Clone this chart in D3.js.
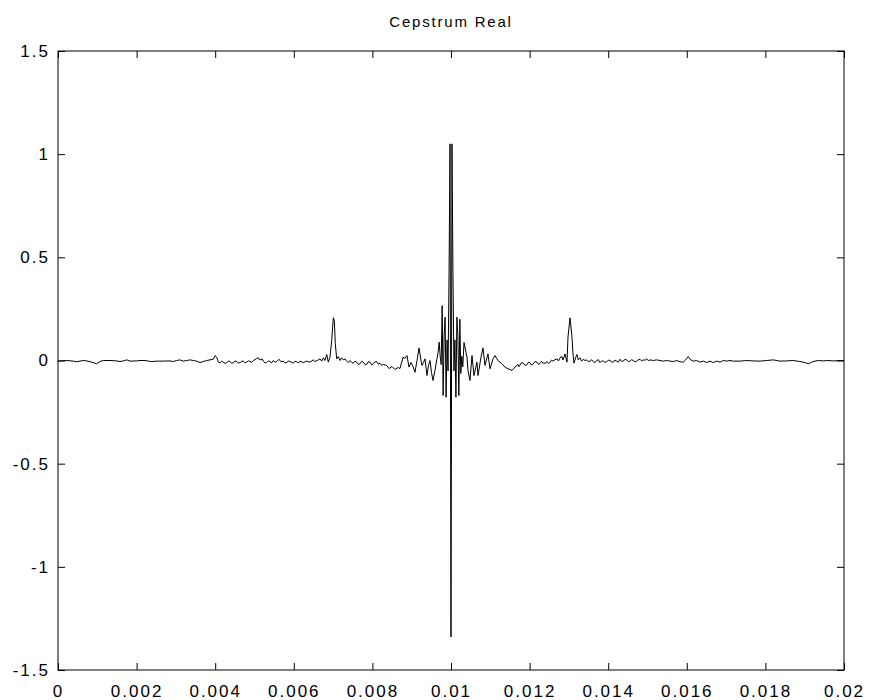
<!DOCTYPE html>
<html>
<head>
<meta charset="utf-8">
<script src="https://cdn.jsdelivr.net/npm/d3@7"></script>
<style>
  html, body { margin: 0; padding: 0; background: #fff; }
  svg { display: block; }
  text { font-family: "Liberation Sans", Arial, Helvetica, sans-serif; fill: #000; }
</style>
</head>
<body>
<svg id="chart" width="869" height="700"></svg>
<script>
// Real cepstrum of the signal: [quefrency (s), amplitude]
const chartTitle = "Cepstrum Real";

const xTicks = [0, 0.002, 0.004, 0.006, 0.008, 0.01, 0.012, 0.014, 0.016, 0.018, 0.02];
const xTickLabels = ["0", "0.002", "0.004", "0.006", "0.008", "0.01", "0.012", "0.014", "0.016", "0.018", "0.02"];
const yTicks = [-1.5, -1, -0.5, 0, 0.5, 1, 1.5];
const yTickLabels = ["-1.5", "-1", "-0.5", "0", "0.5", "1", "1.5"];

// low quefrency side
const cepstrumLeft = [
  [0, -0.003], [0.000221, 0], [0.000389, -0.003], [0.000476, -0.006], [0.000560, -0.003],
  [0.000644, 0], [0.000730, -0.002], [0.000858, -0.008], [0.000985, -0.016], [0.001069, -0.005],
  [0.001153, 0], [0.001323, 0], [0.001494, -0.002], [0.001578, -0.005], [0.001662, -0.002],
  [0.001748, 0.003], [0.001832, -0.003], [0.002003, -0.002], [0.002086, 0], [0.002214, 0],
  [0.002298, -0.003], [0.002384, -0.005], [0.002511, -0.003], [0.002679, -0.003], [0.002850, -0.002],
  [0.002934, -0.005], [0.003020, 0], [0.003104, 0.003], [0.003188, -0.003], [0.003275, 0],
  [0.003359, 0.003], [0.003443, 0], [0.003529, -0.003], [0.003613, -0.010], [0.003697, -0.005],
  [0.003784, 0], [0.003868, 0.003], [0.003952, 0.006], [0.003995, 0.024], [0.004038, 0.016],
  [0.004079, -0.008], [0.004122, -0.011], [0.004164, -0.004], [0.004206, -0.008], [0.004250, -0.014],
  [0.004293, -0.010], [0.004335, -0.003], [0.004377, -0.006], [0.004419, -0.013], [0.004461, -0.011],
  [0.004504, -0.002], [0.004547, -0.005], [0.004589, -0.012], [0.004631, -0.010], [0.004673, -0.004],
  [0.004715, -0.003], [0.004758, -0.011], [0.004801, -0.008], [0.004843, -0.002], [0.004885, -0.005],
  [0.004927, -0.009], [0.004969, 0], [0.005012, 0.004], [0.005056, 0.010], [0.005097, 0.013],
  [0.005140, 0.002], [0.005191, 0.008], [0.005224, -0.003], [0.005267, -0.012], [0.005310, -0.010],
  [0.005352, -0.002], [0.005394, -0.005], [0.005436, -0.011], [0.005478, 0], [0.005521, -0.008],
  [0.005565, -0.005], [0.005623, 0.006], [0.005674, -0.006], [0.005733, -0.003], [0.005776, -0.012],
  [0.005819, -0.011], [0.005861, -0.002], [0.005903, -0.005], [0.005945, -0.008], [0.005987, -0.013],
  [0.006031, -0.003], [0.006074, -0.006], [0.006116, -0.012], [0.006158, -0.003],
  [0.006242, -0.010], [0.006328, -0.003], [0.006412, -0.008], [0.006496, 0.003], [0.006539, -0.005],
  [0.006623, 0.003], [0.006667, 0.008], [0.006710, -0.003], [0.006751, 0.013], [0.006794, 0],
  [0.006837, 0.029], [0.006878, -0.008], [0.006921, 0.016], [0.006964, 0.097], [0.007005, 0.207],
  [0.007031, 0.194], [0.007056, 0.081], [0.007092, 0.008], [0.007132, 0.019], [0.007175, 0],
  [0.007219, 0.013], [0.007260, 0.003], [0.007303, 0.008], [0.007346, -0.003], [0.007388, -0.010],
  [0.007430, 0], [0.007472, -0.009], [0.007514, -0.013], [0.007557, -0.003], [0.007600, -0.008],
  [0.007642, -0.019], [0.007684, -0.016], [0.007726, -0.004], [0.007768, -0.008], [0.007811, -0.020],
  [0.007855, -0.019], [0.007897, -0.006], [0.007939, -0.008], [0.007981, -0.021], [0.008023, -0.016],
  [0.008066, -0.007], [0.008109, -0.005], [0.008151, -0.018], [0.008193, -0.013], [0.008235, -0.024],
  [0.008277, -0.019], [0.008364, -0.024], [0.008422, -0.039], [0.008499, -0.029], [0.008575, -0.044],
  [0.008651, -0.034], [0.008702, -0.039], [0.008779, 0.016], [0.008829, 0.010], [0.008880, 0.024],
  [0.008931, -0.032], [0.008982, -0.010], [0.009033, -0.029], [0.009084, -0.057], [0.009135, 0],
  [0.009186, 0.061], [0.009237, 0], [0.009262, -0.024], [0.009300, -0.010], [0.009338, 0.008],
  [0.009389, -0.073], [0.009427, -0.024], [0.009466, 0], [0.009504, -0.058], [0.009542, -0.097],
  [0.009593, -0.048], [0.009644, 0.010], [0.009672, 0.040]
];

// main lobe around 0.01 s
const cepstrumCentre = [
  [0.009700, 0.089], [0.009725, 0.020], [0.009750, -0.020], [0.009775, 0.266], [0.009800, -0.170],
  [0.009825, 0.120], [0.009850, 0.210], [0.009875, -0.178], [0.009900, 0.100], [0.009925, -0.050],
  [0.009950, 0.420], [0.009975, 1.050], [0.010000, -1.340], [0.010025, 1.050], [0.010050, 0.420],
  [0.010075, -0.050], [0.010100, 0.100], [0.010125, -0.178], [0.010150, 0.210], [0.010175, 0.120],
  [0.010200, -0.170], [0.010225, 0.200], [0.010250, -0.063], [0.010275, 0.020], [0.010300, -0.030]
];

// high quefrency side
const cepstrumRight = [
  [0.010331, 0.087], [0.010407, 0.016], [0.010432, -0.048], [0.010483, -0.097], [0.010534, 0.024],
  [0.010585, -0.073], [0.010661, -0.008], [0.010687, -0.073], [0.010763, 0.016], [0.010814, 0.061],
  [0.010865, -0.024], [0.010941, 0.032], [0.010992, -0.040], [0.011069, 0.008], [0.011119, 0.024],
  [0.011196, 0], [0.011298, -0.016], [0.011374, -0.032], [0.011450, -0.040], [0.011552, -0.048],
  [0.011628, -0.032], [0.011705, -0.019], [0.011730, -0.030], [0.011756, -0.022], [0.011794, -0.010],
  [0.011832, -0.012], [0.011883, -0.024], [0.011934, -0.020], [0.011972, -0.008], [0.012010, -0.010],
  [0.012048, -0.022], [0.012086, -0.018], [0.012137, -0.005], [0.012188, -0.008], [0.012226, -0.019],
  [0.012264, -0.015], [0.012303, -0.004], [0.012341, -0.012], [0.012392, -0.014], [0.012443, -0.006],
  [0.012481, -0.013], [0.012519, -0.010], [0.012557, 0.002], [0.012595, -0.003], [0.012646, 0.004],
  [0.012697, 0.008], [0.012735, -0.002], [0.012773, 0.013], [0.012824, 0.019], [0.012850, 0.003],
  [0.012901, 0.032], [0.012952, -0.008], [0.012977, 0.113], [0.013028, 0.207], [0.013079, 0.113],
  [0.013104, 0.032], [0.013130, -0.013], [0.013181, 0.019], [0.013206, 0.029], [0.013239, 0.003],
  [0.013282, 0.013], [0.013326, -0.003], [0.013366, 0.006], [0.013410, 0], [0.013453, 0.003],
  [0.013495, -0.006], [0.013537, -0.003], [0.013579, 0.004], [0.013621, -0.006], [0.013664, -0.010],
  [0.013707, 0], [0.013749, 0.004], [0.013791, -0.010], [0.013833, -0.002], [0.013875, -0.003],
  [0.013918, -0.009], [0.013962, -0.006], [0.014004, 0.002], [0.014046, 0], [0.014088, -0.007],
  [0.014130, -0.008], [0.014173, 0.002], [0.014216, -0.003], [0.014258, -0.008], [0.014300, 0.006],
  [0.014342, -0.004], [0.014384, -0.003], [0.014427, 0.006], [0.014471, 0.003], [0.014513, -0.006],
  [0.014555, -0.003], [0.014597, 0.004], [0.014639, 0], [0.014682, -0.006], [0.014725, -0.003],
  [0.014767, 0.004], [0.014809, 0.006], [0.014851, -0.002], [0.014893, 0.003], [0.014936, 0.001],
  [0.014980, 0.008], [0.015021, -0.001], [0.015063, 0.003], [0.015147, 0], [0.015234, 0.003],
  [0.015318, 0], [0.015402, -0.003], [0.015488, 0], [0.015572, -0.003], [0.015656, -0.005],
  [0.015743, 0], [0.015827, -0.006], [0.015911, -0.008], [0.015954, 0], [0.016038, 0.019],
  [0.016099, 0.003], [0.016165, -0.003], [0.016252, 0], [0.016336, -0.008], [0.016420, -0.003],
  [0.016506, -0.010], [0.016590, -0.003], [0.016674, -0.010], [0.016761, -0.003], [0.016845, -0.008],
  [0.016929, 0], [0.017015, -0.003], [0.017099, 0], [0.017183, -0.003], [0.017353, -0.003],
  [0.017524, 0], [0.017692, -0.002], [0.017862, -0.003], [0.018033, 0], [0.018201, 0.003],
  [0.018371, -0.003], [0.018542, -0.002], [0.018710, 0], [0.018880, -0.005], [0.019007, -0.010],
  [0.019091, -0.016], [0.019178, -0.008], [0.019262, -0.003], [0.019346, 0], [0.019473, -0.002],
  [0.019559, 0], [0.019728, -0.002], [0.019898, 0], [0.020000, 0]
];

const svg = d3.select("#chart");
const margin = { left: 58, right: 25, top: 51, bottom: 30 };
const W = 869, H = 700;
const x0 = margin.left, x1 = W - margin.right;
const y0 = H - margin.bottom, y1 = margin.top;

const x = d3.scaleLinear().domain([0, 0.02]).range([x0, x1]);
const y = d3.scaleLinear().domain([-1.5, 1.5]).range([y0, y1]);

const fontSize = 17;
const tickLen = 7;

// Box around the plot area
svg.append("rect")
  .attr("x", x0).attr("y", y1)
  .attr("width", x1 - x0).attr("height", y0 - y1)
  .attr("fill", "none").attr("stroke", "#000").attr("stroke-width", 1);

// Cepstrum trace
const pts = cepstrumLeft.concat(cepstrumCentre, cepstrumRight);
svg.append("path")
  .datum(pts)
  .attr("fill", "none")
  .attr("stroke", "#000")
  .attr("stroke-width", 1)
  .attr("stroke-linejoin", "miter")
  .attr("d", d3.line().x(d => x(d[0])).y(d => y(d[1])));

function styleAxis(g) {
  g.select(".domain").remove();
  g.selectAll(".tick line").attr("stroke", "#000").attr("stroke-width", 1);
  g.selectAll(".tick text")
    .attr("font-size", fontSize)
    .attr("letter-spacing", "2px")
    .attr("fill", "#000");
}

// Bottom axis with labels, ticks pointing inward
svg.append("g")
  .attr("transform", `translate(0,${y0})`)
  .call(d3.axisBottom(x).tickValues(xTicks)
    .tickFormat((d, i) => xTickLabels[i])
    .tickSizeInner(-tickLen).tickSizeOuter(0).tickPadding(15))
  .call(styleAxis);

// Left axis with labels
svg.append("g")
  .attr("transform", `translate(${x0},0)`)
  .call(d3.axisLeft(y).tickValues(yTicks)
    .tickFormat((d, i) => yTickLabels[i])
    .tickSizeInner(-tickLen).tickSizeOuter(0).tickPadding(8))
  .call(styleAxis);

// Top and right: ticks only
svg.append("g")
  .attr("transform", `translate(0,${y1})`)
  .call(d3.axisTop(x).tickValues(xTicks).tickFormat("")
    .tickSizeInner(-tickLen).tickSizeOuter(0))
  .call(styleAxis);

svg.append("g")
  .attr("transform", `translate(${x1},0)`)
  .call(d3.axisRight(y).tickValues(yTicks).tickFormat("")
    .tickSizeInner(-tickLen).tickSizeOuter(0))
  .call(styleAxis);

// Title
svg.append("text")
  .attr("x", (x0 + x1) / 2)
  .attr("y", 27)
  .attr("text-anchor", "middle")
  .attr("font-size", 15)
  .attr("letter-spacing", "1.8px")
  .text(chartTitle);
</script>
</body>
</html>
